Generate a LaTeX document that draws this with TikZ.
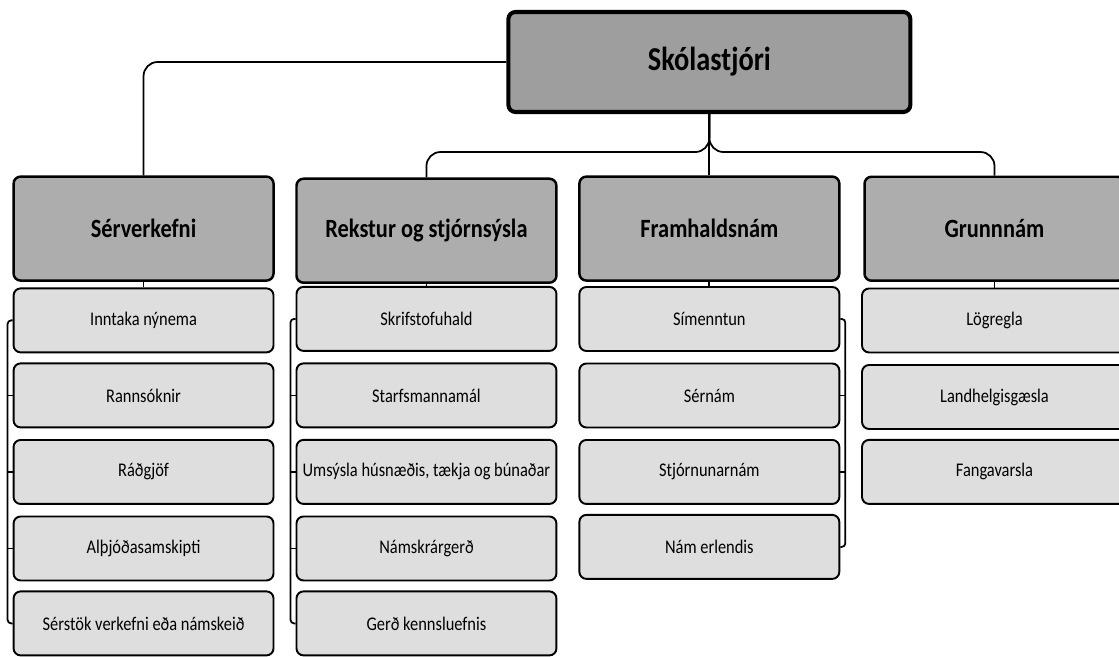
\documentclass[tikz,border=0pt]{standalone}
\usepackage{fontspec}
\setmainfont{Carlito}[FakeStretch=0.85]
\usetikzlibrary{matrix}

\definecolor{topgray}{gray}{0.62}
\definecolor{headgray}{gray}{0.68}
\definecolor{itemgray}{gray}{0.87}

\begin{document}
\begin{tikzpicture}
    [x=0.02cm, y=-0.02cm,
     topbox/.style={draw, line width=2.3pt, rounded corners=4pt, fill=topgray, inner sep=2pt,
                    minimum width=8.04cm, minimum height=2cm, font=\fontsize{19}{22}\selectfont\bfseries},
     headbox/.style={draw, line width=1.4pt, rounded corners=4pt, fill=headgray, inner sep=2pt,
                     minimum width=5.2cm, minimum height=2.08cm, font=\fontsize{15}{18}\selectfont\bfseries},
     itembox/.style={draw, line width=1.1pt, rounded corners=4pt, fill=itemgray, inner sep=2pt,
                     minimum width=5.2cm, minimum height=1.28cm, font=\fontsize{11}{13}\selectfont},
     conn/.style={line width=1pt, rounded corners=8pt},
     tick/.style={line width=1pt, rounded corners=2pt}]

    \useasboundingbox (0,0) rectangle (1119,656);

    \matrix (m) [matrix of nodes, anchor=north west, inner sep=0pt,
                 column sep=0.41cm, row sep=0.18cm, nodes={itembox},
                 column 4/.style={nodes={minimum width=5.3cm}}] at (12,175)
    {
      |[headbox]| Sérverkefni & |[headbox]| Rekstur og stjórnsýsla & |[headbox]| Framhaldsnám & |[headbox]| Grunnnám \\[-0.14cm]
      Inntaka nýnema & Skrifstofuhald & Símenntun & Lögregla \\
      Rannsóknir & Starfsmannamál & Sérnám & Landhelgisgæsla \\
      Ráðgjöf & Umsýsla húsnæðis, tækja og búnaðar & Stjórnunarnám & Fangavarsla \\
      Alþjóðasamskipti & Námskrárgerð & Nám erlendis & \\
      Sérstök verkefni eða námskeið & Gerð kennsluefnis & & \\
    };

    \node[topbox] (top) at (m-1-3.north |- 0,62) {Skólastjóri};

    % top level
    \draw[conn] (top.west) -| (m-1-1.north);
    \draw[conn] (top.south) -- ++(0,38) -| (m-1-2.north);
    \draw[conn] (top.south) -- ++(0,38) -| (m-1-4.north);
    \draw[conn] (top.south) -- (m-1-3.north);
    \foreach \c in {1,...,4}
      \draw[conn] (m-1-\c.south) -- (m-2-\c.north);

    % side brackets
    \draw[tick] (m-2-1.west) -- ++(-5,0) |- (m-6-1.west);
    \draw[tick] (m-2-2.west) -- ++(-5,0) |- (m-6-2.west);
    \draw[tick] (m-2-3.east) -- ++(5,0) |- (m-5-3.east);
    \foreach \r in {3,4,5} {
      \draw[tick] (m-\r-1.west) -- ++(-5,0);
      \draw[tick] (m-\r-2.west) -- ++(-5,0);
    }
    \foreach \r in {3,4}
      \draw[tick] (m-\r-3.east) -- ++(5,0);
  \end{tikzpicture}
\end{document}
